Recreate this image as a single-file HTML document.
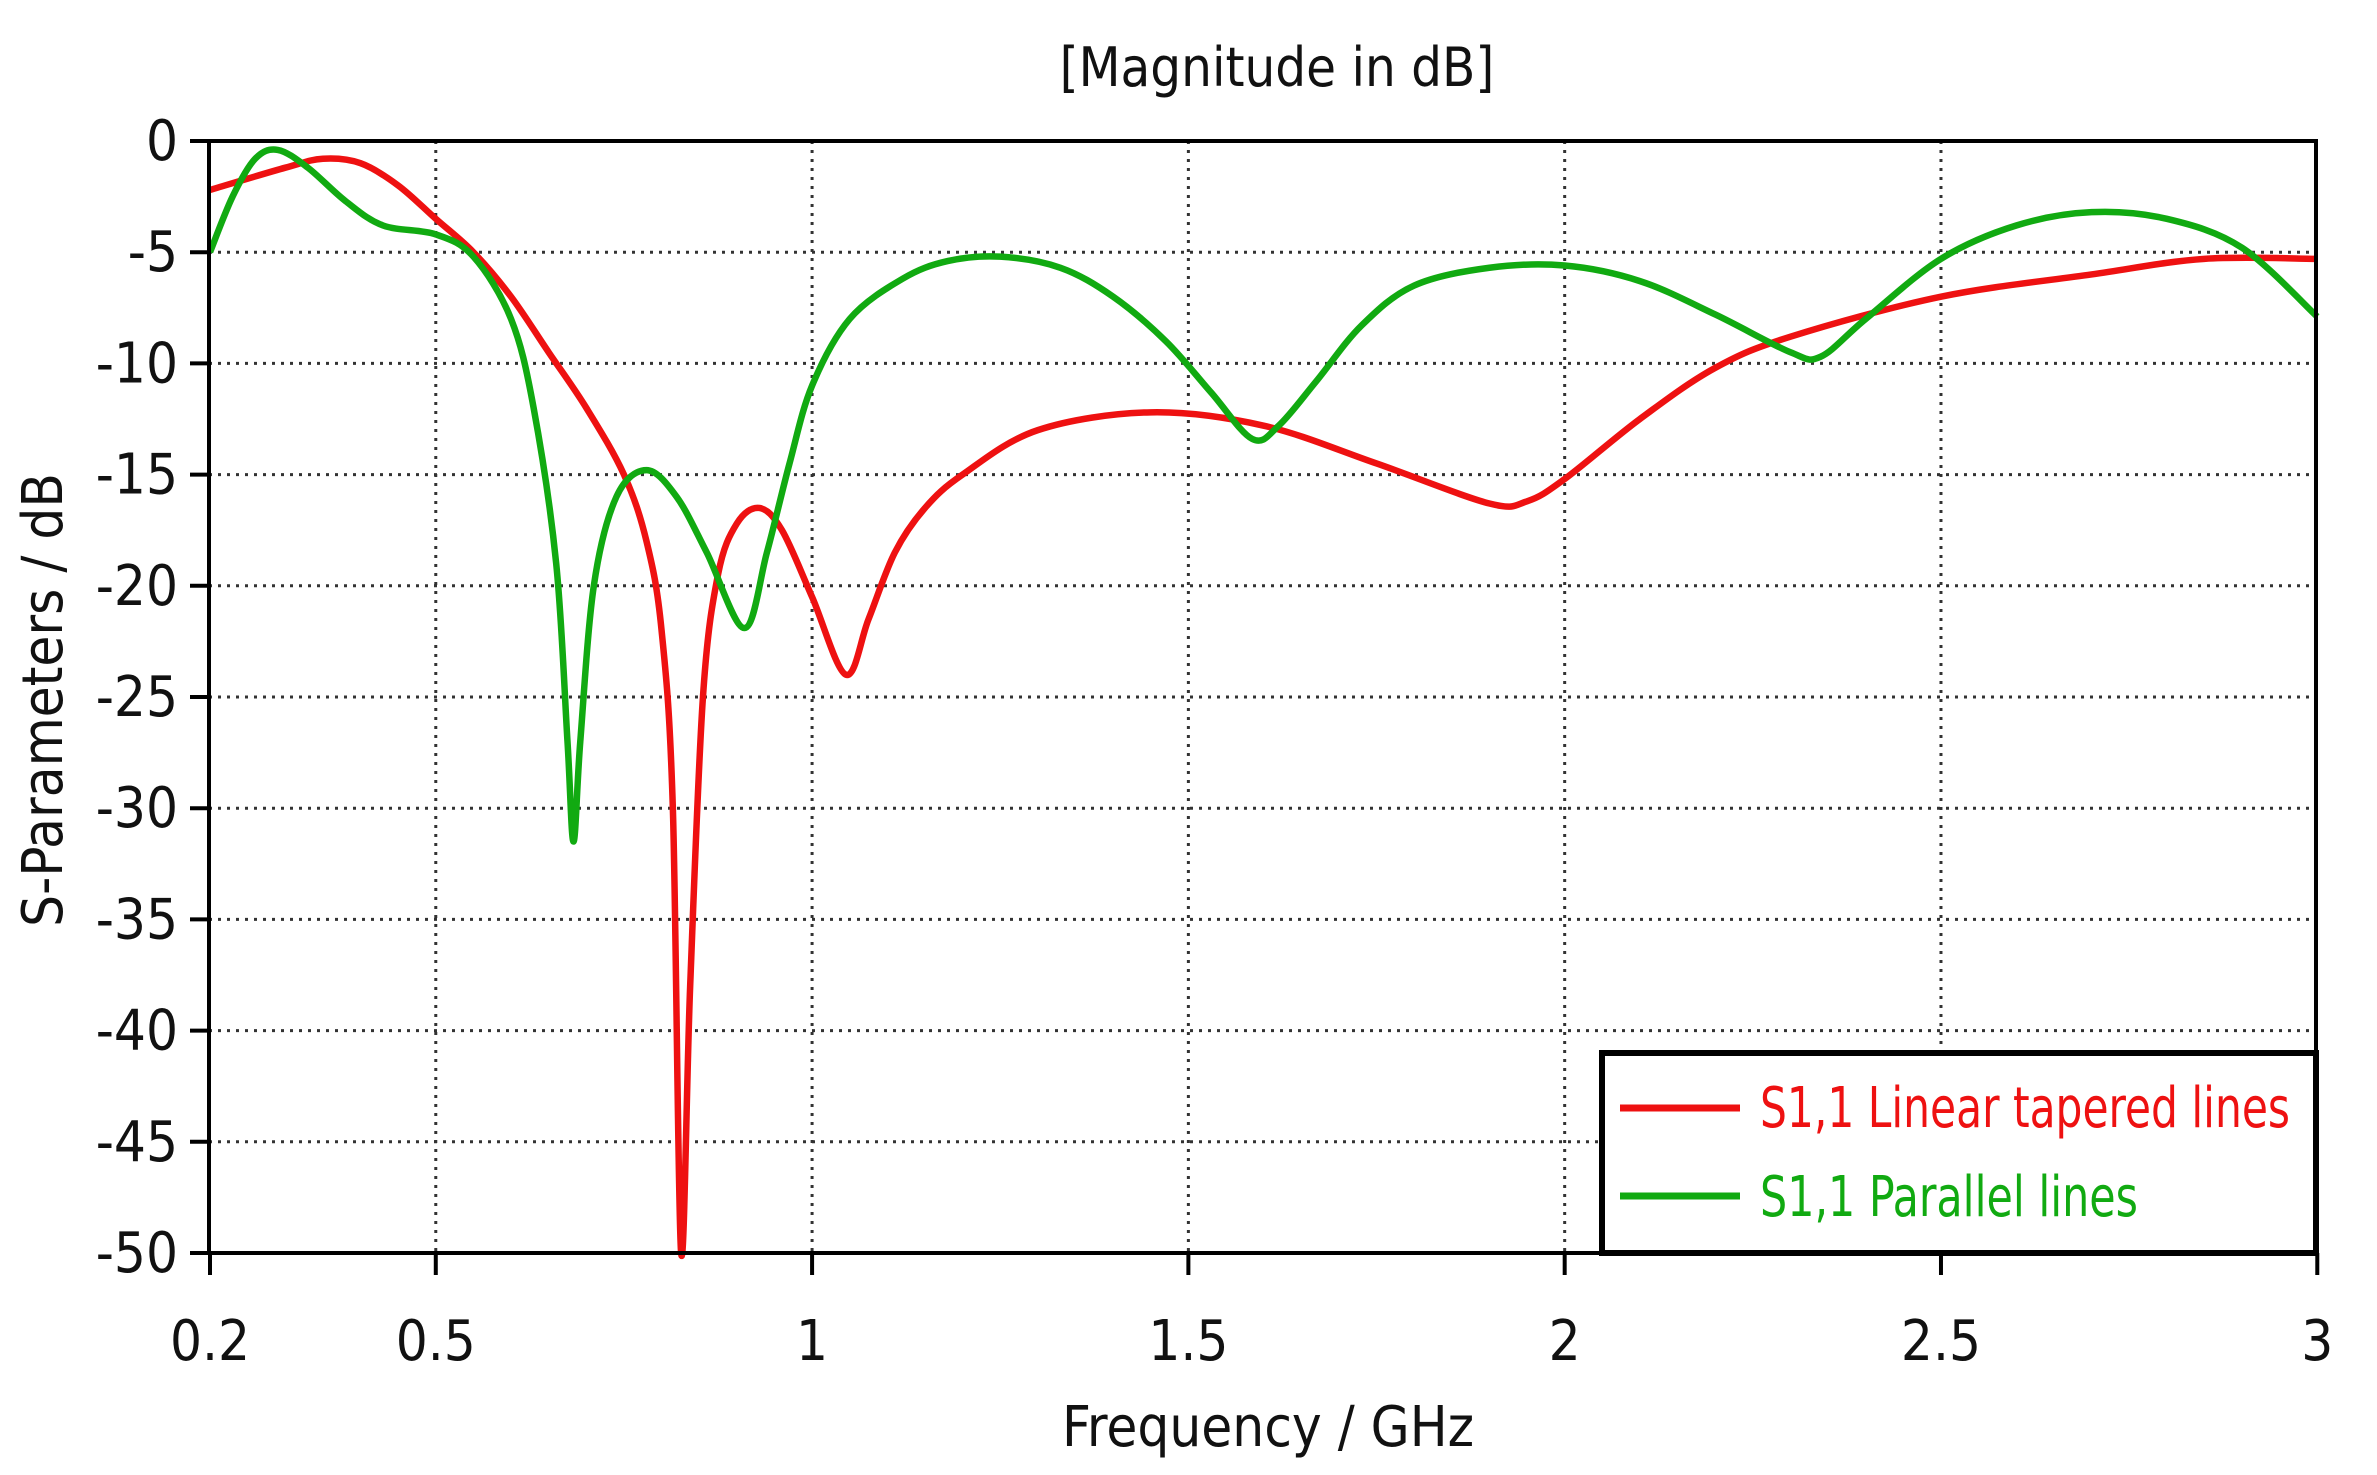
<!DOCTYPE html>
<html><head><meta charset="utf-8"><style>
html,body{margin:0;padding:0;background:#fff;}
svg{display:block;}
text{font-family:"DejaVu Sans Condensed","Liberation Sans",sans-serif;}
</style></head><body>
<svg id="s" width="2377" height="1475" viewBox="0 0 2377 1475" xmlns="http://www.w3.org/2000/svg">
<rect width="2377" height="1475" fill="#fff"/>
<g id="grid" stroke="#333" stroke-width="3" stroke-dasharray="3 6"></g>
<g id="ticks" stroke="#000" stroke-width="4"></g>
<g id="labels" font-size="56" fill="#111"></g>
<path id="red" fill="none" stroke="#ee1111" stroke-width="6.5" stroke-linejoin="round"/>
<path id="green" fill="none" stroke="#11aa11" stroke-width="6.5" stroke-linejoin="round"/>
<rect x="209" y="141" width="2107" height="1112" fill="none" stroke="#000" stroke-width="4"/>
<rect x="1602" y="1053" width="714" height="200" fill="#fff" stroke="#000" stroke-width="6"/>
<line x1="1620" y1="1108" x2="1740" y2="1108" stroke="#ee1111" stroke-width="7"/>
<line x1="1620" y1="1196" x2="1740" y2="1196" stroke="#11aa11" stroke-width="7"/>
<text x="1760" y="1127" font-size="56" fill="#ee1111" textLength="530" lengthAdjust="spacingAndGlyphs">S1,1 Linear tapered lines</text>
<text x="1760" y="1216" font-size="56" fill="#11aa11" textLength="378" lengthAdjust="spacingAndGlyphs">S1,1 Parallel lines</text>
<text x="1277" y="86" font-size="54" text-anchor="middle" fill="#111">[Magnitude in dB]</text>
<text x="1268" y="1446" font-size="56" text-anchor="middle" fill="#111">Frequency / GHz</text>
<text transform="translate(62,700) rotate(-90)" font-size="56" text-anchor="middle" fill="#111">S-Parameters / dB</text>
</svg>
<script>
const X=f=>210+(f-0.2)*752.6, Y=d=>141-d*22.24;
const ns="http://www.w3.org/2000/svg";
function el(p,t,a,txt){const e=document.createElementNS(ns,t);for(const k in a)e.setAttribute(k,a[k]);if(txt!==undefined)e.textContent=txt;document.getElementById(p).appendChild(e);}
[0.5,1,1.5,2,2.5].forEach(f=>el("grid","line",{x1:X(f),y1:141,x2:X(f),y2:1253}));
for(let d=-5;d>=-45;d-=5)el("grid","line",{x1:209,y1:Y(d),x2:2316,y2:Y(d)});
[0.2,0.5,1,1.5,2,2.5,3].forEach(f=>{el("ticks","line",{x1:X(f),y1:1253,x2:X(f),y2:1275});el("labels","text",{x:X(f),y:1360,"text-anchor":"middle"},String(f));});
for(let d=0;d>=-50;d-=5){el("ticks","line",{x1:190,y1:Y(d),x2:209,y2:Y(d)});el("labels","text",{x:178,y:Y(d)+19,"text-anchor":"end"},String(d));}
function path(pts){const P=pts.map(p=>[X(p[0]),Y(p[1])]);let s="M"+P[0][0]+","+P[0][1];
for(let i=0;i<P.length-1;i++){const p0=P[i-1]||P[i],p1=P[i],p2=P[i+1],p3=P[i+2]||p2;const k=6;
s+=` C${p1[0]+(p2[0]-p0[0])/k},${p1[1]+(p2[1]-p0[1])/k} ${p2[0]-(p3[0]-p1[0])/k},${p2[1]-(p3[1]-p1[1])/k} ${p2[0]},${p2[1]}`;}return s;}
const red=[[0.2,-2.2],[0.3,-1.2],[0.35,-0.8],[0.4,-1.0],[0.45,-2],[0.5,-3.5],[0.55,-5],[0.6,-7],[0.65,-9.5],[0.7,-12],[0.75,-15],[0.78,-18],[0.8,-22],[0.815,-30],[0.826,-50],[0.838,-38],[0.855,-25],[0.875,-19.5],[0.9,-17.2],[0.93,-16.5],[0.96,-17.5],[1.0,-20.5],[1.045,-24],[1.075,-21.5],[1.11,-18.5],[1.15,-16.5],[1.2,-15],[1.3,-13],[1.45,-12.2],[1.6,-12.8],[1.75,-14.5],[1.9,-16.3],[1.95,-16.2],[2.0,-15.2],[2.1,-12.5],[2.2,-10.2],[2.3,-8.8],[2.5,-7],[2.7,-6],[2.85,-5.3],[3,-5.3]];
const green=[[0.2,-5],[0.23,-2.5],[0.26,-0.8],[0.29,-0.4],[0.33,-1.2],[0.38,-2.7],[0.43,-3.8],[0.5,-4.2],[0.55,-5.2],[0.6,-8],[0.63,-12],[0.66,-19],[0.675,-27],[0.683,-31.5],[0.692,-27],[0.71,-20],[0.74,-16],[0.78,-14.8],[0.82,-16],[0.86,-18.5],[0.91,-21.9],[0.94,-18.5],[0.97,-14.5],[1.0,-11],[1.05,-8],[1.12,-6.2],[1.18,-5.4],[1.25,-5.2],[1.33,-5.7],[1.4,-7],[1.47,-9],[1.53,-11.3],[1.585,-13.4],[1.62,-12.8],[1.67,-10.8],[1.73,-8.3],[1.8,-6.5],[1.9,-5.7],[2.0,-5.6],[2.1,-6.3],[2.2,-7.8],[2.3,-9.5],[2.34,-9.7],[2.4,-8],[2.5,-5.3],[2.6,-3.8],[2.7,-3.2],[2.8,-3.5],[2.9,-4.8],[3.0,-7.9]];
document.getElementById("red").setAttribute("d",path(red));
document.getElementById("green").setAttribute("d",path(green));
</script>
</body></html>
